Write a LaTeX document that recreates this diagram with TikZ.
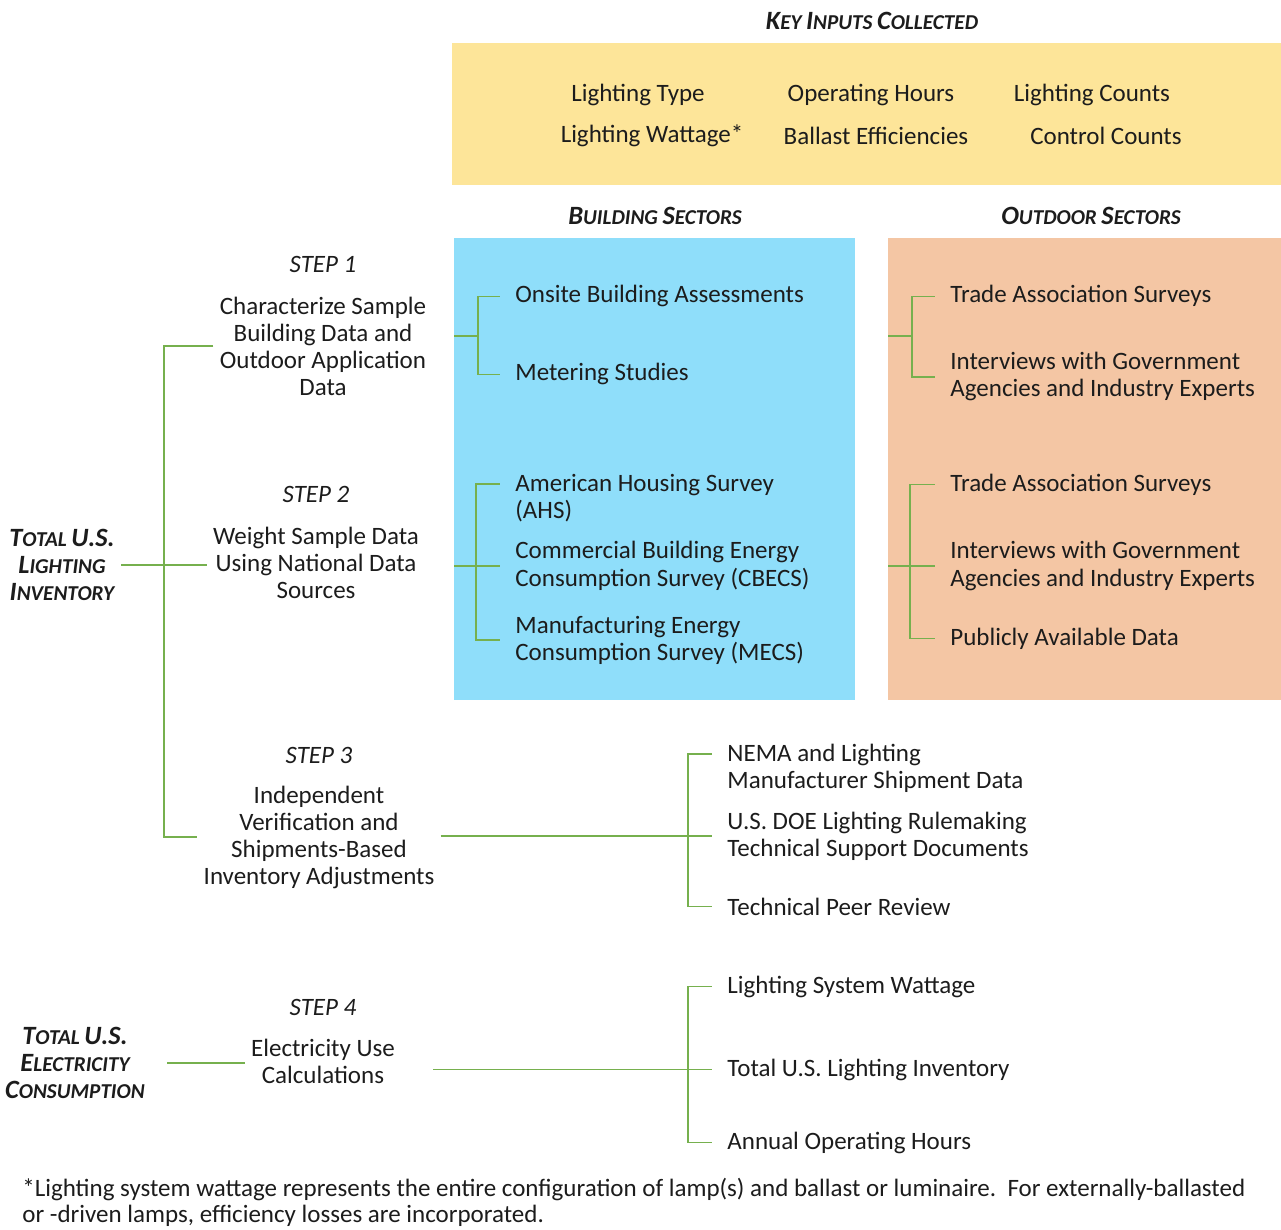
\documentclass[tikz,border=0pt]{standalone}
\usepackage{fontspec}
\setmainfont{Carlito}
\definecolor{keyfill}{RGB}{253,229,153}
\definecolor{bldfill}{RGB}{143,222,250}
\definecolor{outfill}{RGB}{244,198,164}
\definecolor{brgreen}{RGB}{118,176,78}
\definecolor{ink}{RGB}{28,28,28}
\newcommand{\hdcap}[2]{{\fontsize{13.2}{14}\selectfont#1}{\fontsize{10.6}{14}\selectfont#2}}

\begin{document}
\begin{tikzpicture}[x=0.5pt,y=-0.5pt,
  every node/.style={font=\fontsize{12.5}{13.5}\selectfont,text=ink},
  conn/.style={brgreen,line width=0.8pt},
  hd/.style={font=\bfseries\itshape\fontsize{10}{13.5}\selectfont,align=center,inner sep=3pt},
  steplbl/.style={font=\fontsize{12.5}{13.5}\selectfont\itshape},
  stepbox/.style={align=center,inner sep=3pt},
  item/.style={anchor=base west,align=left,inner xsep=7.5pt,inner ysep=1pt},
  panel/.style={anchor=north west,inner sep=0pt,minimum height=231pt}]
\useasboundingbox (0,0) rectangle (1281,1230);

% panels
\node[panel,fill=keyfill,minimum width=414.5pt,minimum height=71pt] (keybox) at (452,43) {};
\node[panel,fill=bldfill,minimum width=200.5pt] (bldbox) at (454,238) {};
\node[panel,fill=outfill,minimum width=196.5pt] (outbox) at (888,238) {};

% headings
\node[hd] (keyhd) at (872,21) {\hdcap{K}{EY} \hdcap{I}{NPUTS} \hdcap{C}{OLLECTED}};
\node[hd] (bldhd) at (655,216) {\hdcap{B}{UILDING} \hdcap{S}{ECTORS}};
\node[hd] (outhd) at (1091,216) {\hdcap{O}{UTDOOR} \hdcap{S}{ECTORS}};

% key inputs
\node (ltype) at (638,95) {Lighting Type};
\node (ophrs) at (871,95) {Operating Hours};
\node (lcnt) at (1092,95) {Lighting Counts};
\node (lwatt) at (652,136) {Lighting Wattage*};
\node (ballast) at (876,136) {Ballast Efficiencies};
\node (ccnt) at (1106,136) {Control Counts};

% totals and steps
\node[hd] (totinv) at (62,565) {\hdcap{T}{OTAL} \hdcap{U.S.}{}\\\hdcap{L}{IGHTING}\\\hdcap{I}{NVENTORY}};
\node[hd] (totelec) at (75,1063) {\hdcap{T}{OTAL} \hdcap{U.S.}{}\\\hdcap{E}{LECTRICITY}\\\hdcap{C}{ONSUMPTION}};
\node[steplbl] (s1lbl) at (323,264) {STEP 1};
\node[stepbox] (step1) at (323,346) {Characterize Sample\\Building Data and\\Outdoor Application\\Data};
\node[steplbl] (s2lbl) at (316,494) {STEP 2};
\node[stepbox] (step2) at (316,563) {Weight Sample Data\\Using National Data\\Sources};
\node[steplbl] (s3lbl) at (319,755) {STEP 3};
\node[stepbox] (step3) at (319,837) {Independent\\Verification and\\Shipments-Based\\Inventory Adjustments};
\node[steplbl] (s4lbl) at (323,1007) {STEP 4};
\node[stepbox] (step4) at (323,1061) {Electricity Use\\Calculations};

% sources (base = last line)
\node[item] (onsite) at (500,303) {Onsite Building Assessments};
\node[item] (meter) at (500,381) {Metering Studies};
\node[item] (ahs) at (500,518) {American Housing Survey\\(AHS)};
\node[item] (cbecs) at (500,586) {Commercial Building Energy\\Consumption Survey (CBECS)};
\node[item] (mecs) at (500,660) {Manufacturing Energy\\Consumption Survey (MECS)};
\node[item] (trade1) at (935,303) {Trade Association Surveys};
\node[item] (interv1) at (935,397) {Interviews with Government\\Agencies and Industry Experts};
\node[item] (trade2) at (935,491) {Trade Association Surveys};
\node[item] (interv2) at (935,586) {Interviews with Government\\Agencies and Industry Experts};
\node[item] (public) at (935,645) {Publicly Available Data};
\node[item] (nema) at (712,788) {NEMA and Lighting\\Manufacturer Shipment Data};
\node[item] (doe) at (712,856) {U.S. DOE Lighting Rulemaking\\Technical Support Documents};
\node[item] (peer) at (712,915) {Technical Peer Review};
\node[item] (sysw) at (712,993) {Lighting System Wattage};
\node[item] (lighinv) at (712,1076) {Total U.S. Lighting Inventory};
\node[item] (annual) at (712,1149) {Annual Operating Hours};

\node[anchor=north west,align=left,inner sep=0pt,font=\fontsize{12.5}{13}\selectfont] (fnote) at (22,1178)
  {*Lighting system wattage represents the entire configuration of lamp(s) and ballast or luminaire.\ \ For externally-ballasted\\or -driven lamps, efficiency losses are incorporated.};

% connectors
\coordinate (trunk) at (164,565);
\coordinate (jb1) at (478,336);
\coordinate (jo1) at (912,336);
\coordinate (jb2) at ([xshift=-12pt]cbecs.west);
\coordinate (jo2) at ([xshift=-12.5pt]interv2.west);
\coordinate (j3) at ([xshift=-12pt]doe.west);
\coordinate (j4) at ([xshift=-12pt]lighinv.west);

\draw[conn] (totinv.east) -- (totinv.east -| step2.west);
\draw[conn] (step1.west) -| (trunk) |- (step3.west);
\draw[conn,shorten <=8pt] (totelec.east) -- (totelec.east -| step4.west);

\draw[conn] (bldbox.west |- jb1) -- (jb1) |- (onsite.west) (jb1) |- (meter.west);
\draw[conn] (bldbox.west |- jb2) -- (jb2) |- ([yshift=17pt]ahs.base west) (jb2) |- (cbecs.west) (jb2) |- (mecs.west);
\draw[conn] (outbox.west |- jo1) -- (jo1) |- (trade1.west) (jo1) |- (interv1.west);
\draw[conn] (outbox.west |- jo2) -- (jo2) |- (trade2.west) (jo2) |- (interv2.west) (jo2) |- (public.west);
\draw[conn] (step3.east |- j3) -- (j3) |- ([yshift=17pt]nema.base west) (j3) |- (doe.west) (j3) |- (peer.west);
\draw[conn,shorten <=16pt] (step4.east |- j4) -- (j4);
\draw[conn] (j4) |- (sysw.west) (j4) |- (lighinv.west) (j4) |- (annual.west);
\end{tikzpicture}
\end{document}
